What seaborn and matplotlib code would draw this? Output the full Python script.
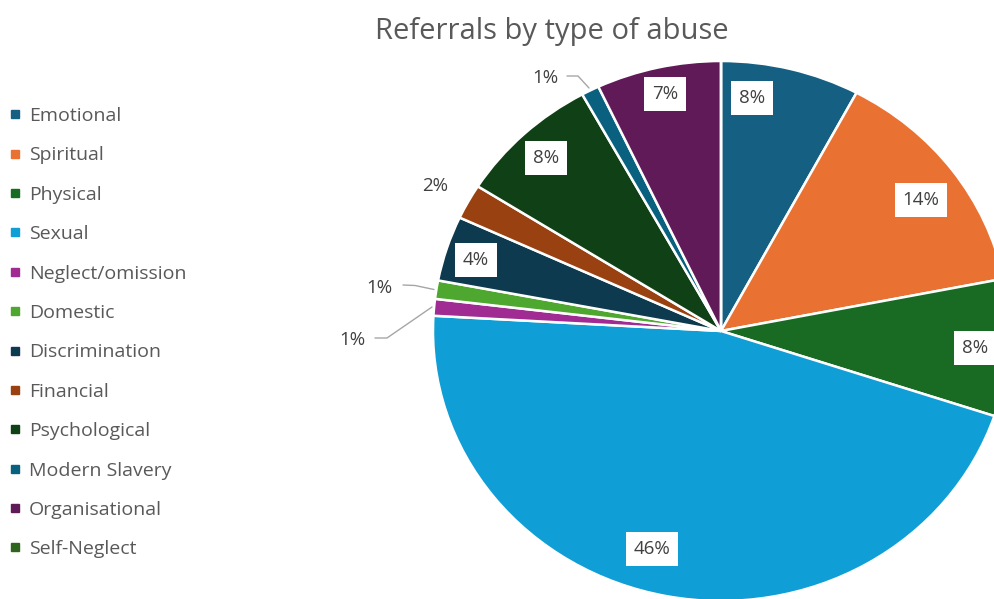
import matplotlib
matplotlib.use("Agg")
import matplotlib.pyplot as plt
import seaborn as sns
from matplotlib.lines import Line2D

categories = ["Emotional", "Spiritual", "Physical", "Sexual", "Neglect/omission",
              "Domestic", "Discrimination", "Financial", "Psychological",
              "Modern Slavery", "Organisational", "Self-Neglect"]
values = [7.8, 14.1, 8.2, 45.8, 1.0, 1.1, 3.9, 2.1, 8.0, 1.0, 7.0, 0.0]
pct_labels = ["8%", "14%", "8%", "46%", "1%", "1%", "4%", "2%", "8%", "1%", "7%", ""]
colors = ["#156082", "#E97132", "#196B24", "#0F9ED5", "#A02B93", "#4EA72E",
          "#0D3A4E", "#994111", "#0F4016", "#09617F", "#601A58", "#2F641C"]

sns.set_theme(style="white")
plt.rcParams['font.family'] = ['Open Sans', 'DejaVu Sans']

W, H = 995, 599
fig = plt.figure(figsize=(W / 100, H / 100), dpi=100)

# pie geometry (pixels): centre and radii
cx, cy, rx, ry = 721, 331, 288, 270
ax = fig.add_axes([(cx - rx) / W, (H - cy - ry) / H, 2 * rx / W, 2 * ry / H])
wedges, _ = ax.pie(values, colors=colors, startangle=90, counterclock=False,
                   wedgeprops=dict(edgecolor="white", linewidth=1.8))
ax.set_aspect("auto")
ax.set_xlim(-1, 1)
ax.set_ylim(-1, 1)
ax.axis("off")

def u(px, py):
    return ((px - cx) / rx, (cy - py) / ry)

# label placement (pixel positions in the reference) and whether boxed
label_pos = [(752, 98), (921, 200), (975, 348), (652, 549), (352, 340), (379, 288),
             (476, 260), (435, 186), (546, 158), (545, 78), (665, 94), None]
boxed = [True, True, True, True, False, False, True, False, True, False, True, False]
for lab, pos, bx in zip(pct_labels, label_pos, boxed):
    if pos is None or not lab:
        continue
    x, y = u(*pos)
    kw = dict(ha="center", va="center", fontsize=13.5, color="#404040", clip_on=False)
    if bx:
        kw["bbox"] = dict(boxstyle="square,pad=0.42", fc="white", ec="none")
    ax.text(x, y, lab, **kw)

# leader lines
leaders = [
    [(375, 338), (387, 338), (432, 307)],
    [(403, 285), (415, 285.5), (434, 289.5)],
    [(567, 76), (578, 76), (589, 88)],
]
for pts in leaders:
    xs, ys = zip(*[u(*p) for p in pts])
    ax.plot(xs, ys, color="#a6a6a6", lw=1, clip_on=False)

fig.text(552 / W, 1 - 31 / H, "Referrals by type of abuse", ha="center", va="center",
         fontsize=21, color="#595959")

handles = [Line2D([0], [0], marker="s", linestyle="none", markersize=5.5,
                  markerfacecolor=c, markeredgecolor=c) for c in colors]
leg = fig.legend(handles, categories, loc="upper left",
                 bbox_to_anchor=(5.3 / W, 1 - 107 / H),
                 frameon=False, fontsize=14, labelspacing=1.10, handlelength=1.0,
                 handletextpad=0.22, borderaxespad=0, borderpad=0)
for t in leg.get_texts():
    t.set_color("#595959")

fig.savefig("out.png", dpi=100)
